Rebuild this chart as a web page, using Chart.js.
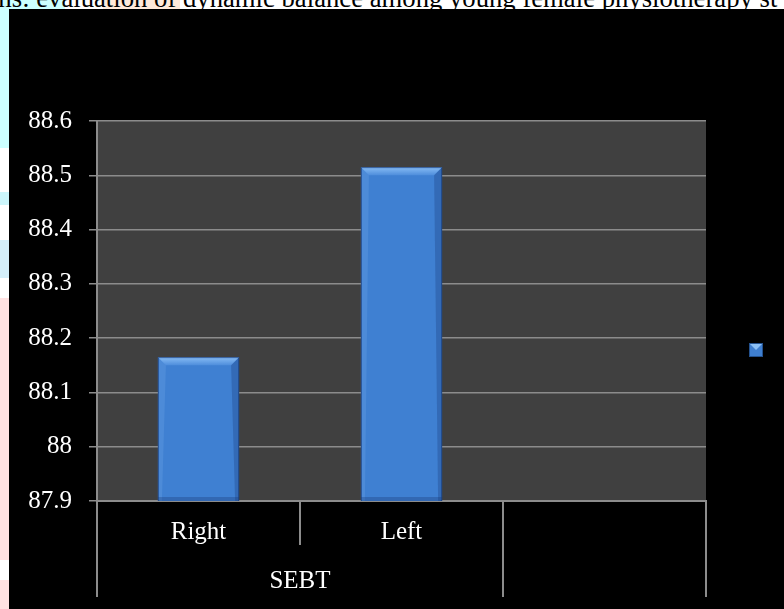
<!DOCTYPE html>
<html>
<head>
<meta charset="utf-8">
<script src="https://cdn.jsdelivr.net/npm/chart.js@4.4.0/dist/chart.umd.min.js"></script>
<style>
  html, body { margin: 0; padding: 0; }
  body { width: 784px; height: 609px; position: relative; overflow: hidden; background: #fff; }
  #topStrip {
    position: absolute; left: 0; top: 0; width: 784px; height: 9px;
    background: linear-gradient(to right, #ccffff 0, #ccffff 65px, #fff 65px, #fff 103px,
      #ffe9da 103px, #ffe9da 180px, #fff 180px);
  }
  #leftStrip {
    position: absolute; left: 0; top: 9px; width: 9px; height: 600px;
    background: linear-gradient(to bottom, #ccffff 0, #ccffff 139px, #fff 139px, #fff 183px,
      #ccf6fb 183px, #ccf6fb 196px, #fff 196px, #fff 231px, #d4effa 231px, #d4effa 269px,
      #fff 269px, #fff 289px, #ffe2e2 289px, #ffe2e2 551px, #fff 551px, #fff 571px, #ffe2e2 571px);
  }
  #caption {
    position: absolute; left: -9px; top: -17px; white-space: nowrap;
    font-family: 'Liberation Serif', serif; font-size: 26.7px; color: #000;
  }
  #panel { position: absolute; left: 9px; top: 9px; width: 775px; height: 600px; background: #000; }
  canvas { display: block; }
</style>
</head>
<body>
<div id="topStrip"></div>
<div id="leftStrip"></div>
<div id="caption">ms: evaluation of dynamic balance among young female physiotherapy st</div>
<div id="panel"><canvas id="chart" width="775" height="600"></canvas></div>
<script>
// chart data
const categories = ['Right', 'Left', ''];
const groupLabels = ['SEBT'];      // spans the first two categories
const groupSpans = [2];
const sebtValues = [88.165, 88.515, null];
const yMin = 87.9;
const yMax = 88.6;
const yStep = 0.1;

const FONT = "'Liberation Serif', 'Times New Roman', serif";
const LINE = '#8c8c8c';

// dark plot background, category table under the axis, bevels, legend box
const decorPlugin = {
    id: 'decor',
    beforeDraw(chart) {
        const a = chart.chartArea;
        const c = chart.ctx;
        c.save();
        c.fillStyle = '#404040';
        c.fillRect(a.left, a.top, a.right - a.left, a.bottom - a.top);
        c.restore();
    },
    afterDatasetsDraw(chart) {
        const c = chart.ctx;
        const a = chart.chartArea;
        const meta = chart.getDatasetMeta(0);
        c.save();
        c.beginPath();
        c.rect(a.left, a.top, a.right - a.left, a.bottom - a.top);
        c.clip();
        meta.data.forEach((bar, i) => {
            if (sebtValues[i] == null) return;
            const l = bar.x - bar.width / 2, r = bar.x + bar.width / 2;
            const t = bar.y, b = Math.min(bar.base, a.bottom);
            const bv = 8;
            // top bevel
            const g = c.createLinearGradient(0, t, 0, t + bv);
            g.addColorStop(0, '#88bdf5');
            g.addColorStop(1, '#4f8edc');
            c.fillStyle = g;
            c.beginPath();
            c.moveTo(l, t); c.lineTo(r, t); c.lineTo(r - bv, t + bv); c.lineTo(l + bv, t + bv);
            c.closePath(); c.fill();
            // left bevel
            c.fillStyle = 'rgba(120,170,235,0.25)';
            c.beginPath();
            c.moveTo(l, t); c.lineTo(l + bv, t + bv); c.lineTo(l + 4, b); c.lineTo(l, b);
            c.closePath(); c.fill();
            // right bevel
            c.fillStyle = 'rgba(20,50,110,0.28)';
            c.beginPath();
            c.moveTo(r, t); c.lineTo(r - bv, t + bv); c.lineTo(r - 4, b); c.lineTo(r, b);
            c.closePath(); c.fill();
            // bottom shade
            c.fillStyle = 'rgba(20,50,110,0.3)';
            c.fillRect(l, b - 4, r - l, 4);
            // outline
            c.strokeStyle = 'rgba(25,60,120,0.7)';
            c.lineWidth = 1;
            c.strokeRect(l + 0.5, t + 0.5, r - l - 1, b - t);
        });
        c.restore();
    },
    afterDraw(chart) {
        const c = chart.ctx;
        const a = chart.chartArea;
        const xs = chart.scales.x;
        const step = xs.getPixelForValue(1) - xs.getPixelForValue(0);
        const edge = i => xs.getPixelForValue(i) - step / 2;
        const innerBottom = a.bottom + 44;
        const outerBottom = a.bottom + 96;
        c.save();
        c.strokeStyle = LINE;
        c.lineWidth = 2;
        // category dividers
        let start = 0;
        const outer = new Set([0, categories.length]);
        groupSpans.forEach(s => { start += s; outer.add(start); });
        for (let i = 0; i <= categories.length; i++) {
            const x = Math.round(edge(i));
            c.beginPath();
            c.moveTo(x, a.bottom);
            c.lineTo(x, outer.has(i) ? outerBottom : innerBottom);
            c.stroke();
        }
        // group labels
        c.fillStyle = '#ffffff';
        c.font = '25px ' + FONT;
        c.textAlign = 'center';
        c.textBaseline = 'middle';
        start = 0;
        groupLabels.forEach((lab, k) => {
            const x0 = edge(start), x1 = edge(start + groupSpans[k]);
            c.fillText(lab, (x0 + x1) / 2, a.bottom + 80);
            start += groupSpans[k];
        });
        // legend marker (series has no name)
        const lx = 740, ly = 334, s = 14;
        c.fillStyle = '#3f7fd0';
        c.fillRect(lx, ly, s, s);
        c.fillStyle = '#8cc0f6';
        c.beginPath();
        c.moveTo(lx, ly); c.lineTo(lx + s, ly); c.lineTo(lx + s / 2, ly + s / 2);
        c.closePath(); c.fill();
        c.strokeStyle = '#24528f';
        c.lineWidth = 1;
        c.strokeRect(lx + 0.5, ly + 0.5, s - 1, s - 1);
        c.restore();
    }
};

const ctx = document.getElementById('chart').getContext('2d');
new Chart(ctx, {
    type: 'bar',
    data: {
        labels: categories,
        datasets: [{
            label: '',
            data: sebtValues,
            backgroundColor: '#3f80d2',
            borderWidth: 0,
            barPercentage: 0.4,
            categoryPercentage: 1.0
        }]
    },
    options: {
        responsive: false,
        animation: false,
        layout: { padding: { top: 112, right: 78, left: 0, bottom: 0 } },
        plugins: {
            legend: { display: false },
            tooltip: { enabled: false }
        },
        scales: {
            x: {
                offset: true,
                grid: { display: false, drawTicks: false },
                border: { display: true, color: LINE, width: 2 },
                ticks: {
                    color: '#ffffff',
                    font: { family: FONT, size: 25 },
                    padding: 16,
                    maxRotation: 0,
                    autoSkip: false
                },
                afterFit(scale) { scale.height = 108; }
            },
            y: {
                min: yMin,
                max: yMax,
                grid: { color: LINE, lineWidth: 1.5, tickLength: 8 },
                border: { display: true, color: LINE, width: 2 },
                ticks: {
                    stepSize: yStep,
                    color: '#ffffff',
                    font: { family: FONT, size: 25 },
                    padding: 17,
                    callback: v => String(Math.round(v * 10) / 10)
                },
                afterFit(scale) { scale.width = 88; }
            }
        }
    },
    plugins: [decorPlugin]
});
</script>
</body>
</html>
